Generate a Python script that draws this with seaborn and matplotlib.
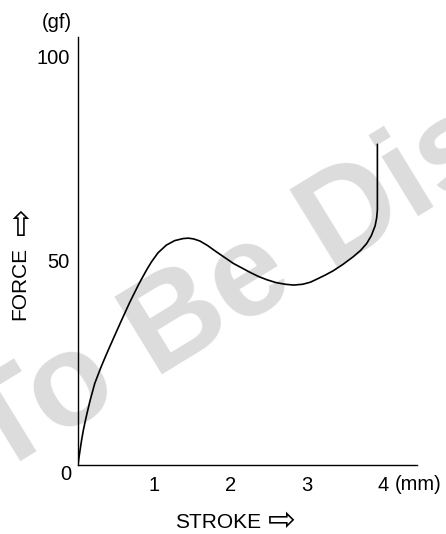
import matplotlib
matplotlib.use("Agg")
import matplotlib.pyplot as plt
import seaborn as sns
import pandas as pd

# stroke (mm) vs force (gf)
stroke = [0, 0.01, 0.026, 0.048, 0.07, 0.09, 0.12, 0.16, 0.22, 0.3, 0.37, 0.45,
          0.56, 0.68, 0.8, 0.9, 0.965, 1.05, 1.16, 1.27, 1.38, 1.45, 1.52, 1.6,
          1.7, 1.82, 1.93, 2.04, 2.15, 2.26, 2.37, 2.48, 2.6, 2.72, 2.83, 2.95,
          3.05, 3.13, 3.24, 3.35, 3.48, 3.61, 3.71, 3.79, 3.85, 3.9, 3.92, 3.93,
          3.93]
force = [0, 1.5, 3.5, 6.2, 8.5, 10.3, 12.8, 15.9, 20.0, 23.9, 27.0, 30.4,
         35.0, 39.9, 44.4, 47.8, 49.8, 52.0, 53.9, 55.0, 55.5, 55.6, 55.4, 54.9,
         53.8, 52.2, 50.8, 49.4, 48.3, 47.2, 46.2, 45.4, 44.7, 44.3, 44.1, 44.3,
         44.8, 45.5, 46.5, 47.6, 49.2, 51.0, 52.6, 54.3, 56.2, 58.6, 60.5, 62.5,
         78.6]

x_ticks = [1, 2, 3, 4]
y_ticks = [50, 100]

df = pd.DataFrame({"stroke": stroke, "force": force})

sns.set_style("white")
plt.rcParams["font.family"] = ["Liberation Sans", "DejaVu Sans"]

fig = plt.figure(figsize=(4.46, 5.34), dpi=100)
ax = fig.add_axes([78 / 446, 69 / 534, 339 / 446, 428 / 534])
ax.patch.set_alpha(0)

# watermark behind the curve
ax.text(-6 / 446, 1 - 477 / 534, "To Be Dis", transform=fig.transFigure,
        rotation=31.5, rotation_mode="anchor", ha="left", va="baseline",
        fontsize=95, fontweight="bold", color="#dcdcdc", zorder=0, clip_on=False)

sns.lineplot(data=df, x="stroke", y="force", sort=False, estimator=None,
             color="black", linewidth=1.2, ax=ax, zorder=3)

ax.set_xlim(0, 4.45)
ax.set_ylim(0, 104.9)
for side in ["top", "right"]:
    ax.spines[side].set_visible(False)
for side in ["left", "bottom"]:
    ax.spines[side].set_linewidth(1.0)
    ax.spines[side].set_color("black")

ax.set_xticks(x_ticks)
ax.set_xticklabels([str(t) for t in x_ticks])
ax.set_yticks(y_ticks)
ax.set_yticklabels([str(t) for t in y_ticks])
ax.set_yticks(range(10, 100, 10), minor=True)
ax.tick_params(axis="both", which="both", direction="in", length=3,
               width=0.8, color="black", labelcolor="black", labelsize=14.5, pad=6)
ax.tick_params(axis="x", pad=8)

ax.set_xlabel("")
ax.set_ylabel("")
txt = dict(color="black", ha="center", va="center")
fig.text(66 / 446, 1 - 475 / 534, "0", fontsize=14.5, **txt)
fig.text(395 / 446, 1 - 484 / 534, "(mm)", fontsize=14.5, color="black",
         ha="left", va="center")
fig.text(57 / 446, 1 - 22 / 534, "(gf)", fontsize=14.5, **txt)
fig.text(218 / 446, 1 - 522 / 534, "STROKE", fontsize=15, **txt)
fig.text(282 / 446, 1 - 521 / 534, "\u21e8", fontsize=24, **txt)
fig.text(19.5 / 446, 1 - 283 / 534, "FORCE", fontsize=15, rotation=90, **txt)
fig.text(20 / 446, 1 - 227 / 534, "\u21e7", fontsize=24, **txt)

fig.savefig("out.png", dpi=100)
